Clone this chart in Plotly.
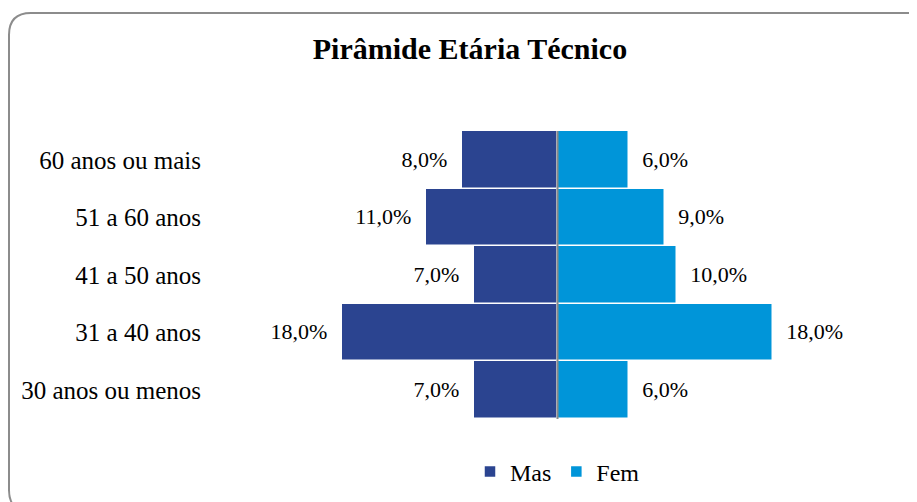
import plotly.graph_objects as go

categorias = ["60 anos ou mais", "51 a 60 anos", "41 a 50 anos", "31 a 40 anos", "30 anos ou menos"]
mas = [8.0, 11.0, 7.0, 18.0, 7.0]
fem = [6.0, 9.0, 10.0, 18.0, 6.0]

# ordem de baixo pra cima no eixo
cats = categorias[::-1]
mas_r = mas[::-1]
fem_r = fem[::-1]

W, H = 917, 502
OFF = 8  # margem do body da pagina
L, R, T, B = 210 - OFF, 20, 131 - OFF, 91
PW, PH = W - L - R, H - T - B
NB = "\u00a0\u00a0"

def fmt(v):
    return ("%.1f" % v).replace(".", ",") + "%"

def px2paper(x, y):
    # x, y em pixels da tela (ja com deslocamento do body)
    return (x - OFF - L) / PW, (H - B - (y - OFF)) / PH

def rounded_rect(x0, y0, x1, y1, r):
    pts = [
        ("M", (x0 + r, y0)), ("L", (x1 - r, y0)), ("Q", (x1, y0), (x1, y0 + r)),
        ("L", (x1, y1 - r)), ("Q", (x1, y1), (x1 - r, y1)),
        ("L", (x0 + r, y1)), ("Q", (x0, y1), (x0, y1 - r)),
        ("L", (x0, y0 + r)), ("Q", (x0, y0), (x0 + r, y0)),
    ]
    s = ""
    for p in pts:
        coords = " ".join("%.5f,%.5f" % px2paper(*c) for c in p[1:])
        s += p[0] + " " + coords + " "
    return s + "Z"

fig = go.Figure()

fig.add_trace(go.Bar(
    y=cats, x=[-v for v in mas_r], orientation="h", name="Mas",
    marker=dict(color="#2B4490", line=dict(color="white", width=1.5)),
    text=[fmt(v) + NB for v in mas_r], textposition="outside",
    textfont=dict(family="Liberation Serif", size=22, color="black"),
    cliponaxis=False,
))
fig.add_trace(go.Bar(
    y=cats, x=fem_r, orientation="h", name="Fem",
    marker=dict(color="#0095D9", line=dict(color="white", width=1.5)),
    text=[NB + fmt(v) for v in fem_r], textposition="outside",
    textfont=dict(family="Liberation Serif", size=22, color="black"),
    cliponaxis=False,
))

# linha central do eixo
fig.add_shape(type="line", x0=0, x1=0, y0=-0.5, y1=4.5, xref="x", yref="y",
              line=dict(color="#8a8a8a", width=2), layer="above")

# borda arredondada
fig.add_shape(type="path", xref="paper", yref="paper",
              path=rounded_rect(9, 13, 932, 512, 22),
              line=dict(color="#8c8c8c", width=2))

fig.update_layout(
    width=W, height=H,
    margin=dict(l=L, r=R, t=T, b=B),
    barmode="relative", bargap=0.0,
    paper_bgcolor="white", plot_bgcolor="white",
    font=dict(family="Liberation Serif", color="black"),
    title=dict(text="<b>Pirâmide Etária Técnico</b>", x=(470 - OFF) / W, xanchor="center",
               y=1 - (48 - OFF) / H, yanchor="middle",
               font=dict(family="Liberation Serif", size=30, color="black")),
    xaxis=dict(range=[-29, 29], visible=False, fixedrange=True),
    yaxis=dict(range=[-0.5, 4.5], showgrid=False, zeroline=False, showline=False,
               ticks="", ticklabelstandoff=8,
               tickfont=dict(family="Liberation Serif", size=25, color="black")),
    showlegend=True,
    legend=dict(orientation="h", x=0.5, xanchor="center", y=px2paper(0, 472)[1],
                yanchor="middle", font=dict(family="Liberation Serif", size=24),
                itemwidth=30, traceorder="normal"),
)

fig.write_html("out.html")
